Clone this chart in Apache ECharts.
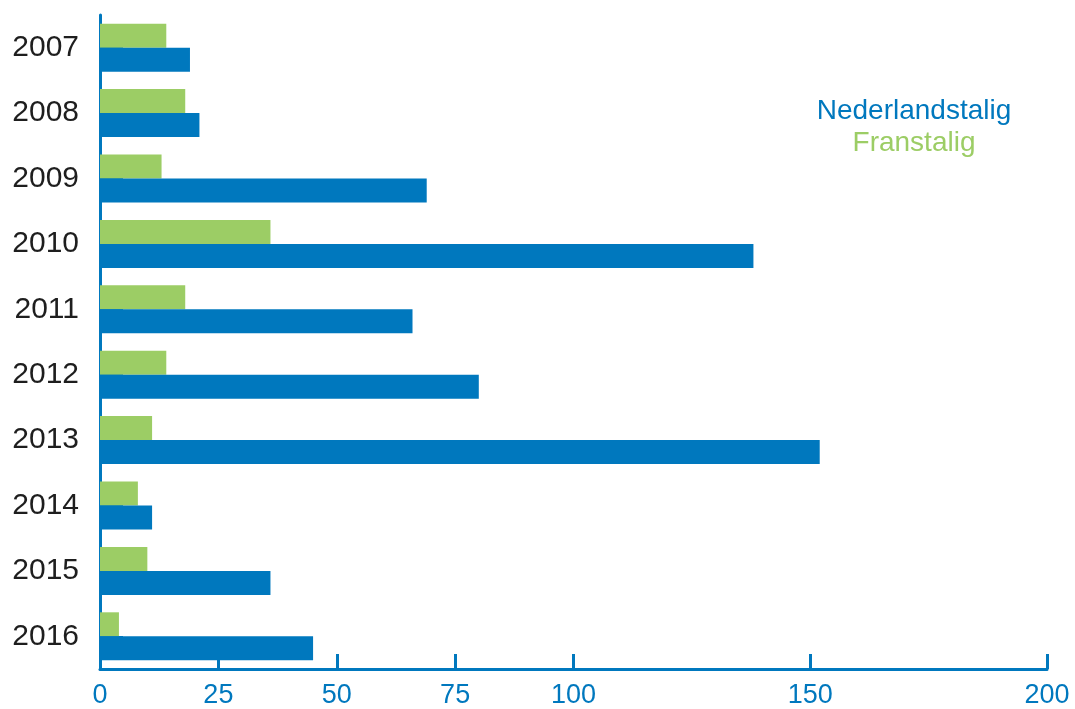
<!DOCTYPE html>
<html>
<head>
    <meta charset="utf-8">
    <title>Nederlandstalig / Franstalig</title>
    <script src="https://cdn.jsdelivr.net/npm/echarts@6/dist/echarts.min.js"></script>
    <style>
        html, body { margin: 0; padding: 0; background: #fff; }
        #chart { width: 1075px; height: 709px; }
    </style>
</head>
<body>
<div id="chart"></div>
<script type="text/javascript">
    // data
    var years = ['2007', '2008', '2009', '2010', '2011', '2012', '2013', '2014', '2015', '2016'];
    var nederlandstalig = [19, 21, 69, 138, 66, 80, 152, 11, 36, 45];
    var franstalig = [14, 18, 13, 36, 18, 14, 11, 8, 10, 4];
    var xLabels = [0, 25, 50, 75, 100, 150, 200];
    var xTicks = [25, 50, 75, 100, 150, 200];

    var blue = '#0078be';
    var green = '#9ccd65';

    var myChart = echarts.init(document.getElementById('chart'));

    myChart.setOption({
        animation: false,
        grid: { left: 100, right: 28, top: 15, bottom: 40 },
        xAxis: {
            type: 'value',
            min: 0,
            max: 200,
            axisLine: { show: true, lineStyle: { color: blue, width: 3 } },
            axisTick: {
                show: true, inside: true, length: 15,
                customValues: xTicks,
                lineStyle: { color: blue, width: 3 }
            },
            axisLabel: {
                customValues: xLabels,
                color: blue,
                fontSize: 27,
                fontFamily: 'Liberation Sans, sans-serif',
                margin: 13
            },
            splitLine: { show: false }
        },
        yAxis: {
            type: 'category',
            data: years,
            inverse: true,
            axisLine: { show: true, lineStyle: { color: blue, width: 3 } },
            axisTick: {
                show: true, inside: true, length: 23, alignWithLabel: true,
                lineStyle: { color: blue, width: 2 }
            },
            axisLabel: {
                color: '#1e1e1e',
                fontSize: 30,
                fontFamily: 'Liberation Sans, sans-serif',
                margin: 21
            }
        },
        // legend lines, centred on one x
        graphic: [
            {
                type: 'text', x: 914, y: 111,
                style: {
                    text: 'Nederlandstalig', fill: blue,
                    align: 'center', verticalAlign: 'middle',
                    textAlign: 'center', textVerticalAlign: 'middle',
                    font: '28px "Liberation Sans", sans-serif'
                }
            },
            {
                type: 'text', x: 914, y: 143,
                style: {
                    text: 'Franstalig', fill: green,
                    align: 'center', verticalAlign: 'middle',
                    textAlign: 'center', textVerticalAlign: 'middle',
                    font: '28px "Liberation Sans", sans-serif'
                }
            }
        ],
        series: [
            {
                name: 'Franstalig',
                type: 'bar',
                data: franstalig,
                barWidth: 24,
                barGap: '0%',
                itemStyle: { color: green }
            },
            {
                name: 'Nederlandstalig',
                type: 'bar',
                data: nederlandstalig,
                barWidth: 24,
                barGap: '0%',
                itemStyle: { color: blue }
            }
        ]
    });
</script>
</body>
</html>
